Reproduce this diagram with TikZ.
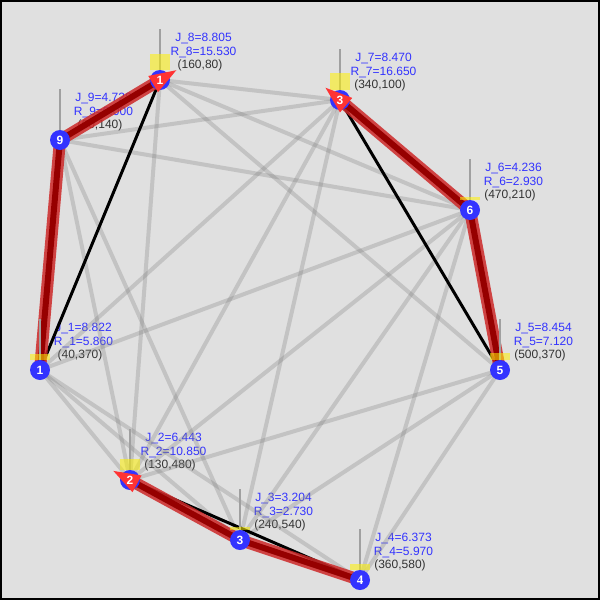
\documentclass[tikz,border=0pt]{standalone}
\usepackage{fontspec}
\setmainfont{Liberation Sans}
\newfontfamily\serifnum{Liberation Serif}
\usetikzlibrary{calc}
\definecolor{bg}{RGB}{224,224,224}
\definecolor{nodeblue}{RGB}{51,51,255}
\definecolor{lblblue}{RGB}{51,51,255}
\definecolor{txtgray}{RGB}{51,51,51}
\definecolor{redout}{RGB}{205,40,40}
\definecolor{redin}{RGB}{150,0,0}
\definecolor{arrowred}{RGB}{255,51,51}
\definecolor{vgray}{RGB}{160,160,160}
\newcommand\arrowat[2]{%
  \coordinate (tip) at ($(#1)!-19pt!(#2)$);
  \coordinate (bc) at ($(#1)!8pt!(#2)$);
  \fill[arrowred] (tip) -- ($(bc)!9.5pt!90:(#1)$) -- ($(bc)!9.5pt!-90:(#1)$) -- cycle;}
\tikzset{
  greyedge/.style={line width=4pt, draw=gray, draw opacity=0.3},
  blackedge/.style={line width=3pt, draw=black},
  redouter/.style={line width=12pt, draw=redout, draw opacity=0.85},
  redinner/.style={line width=6pt, draw=redin},
  vline/.style={line width=1.4pt, draw=vgray},
  ybar/.style={fill=yellow, fill opacity=0.55},
  vertex/.style={circle, fill=nodeblue, minimum size=20pt, inner sep=0pt},
  numtxt/.style={text=white, inner sep=0pt, font=\bfseries\fontsize{12}{12}\selectfont},
  jlbl/.style={anchor=base, text=lblblue, inner sep=0pt, font=\fontsize{12}{12}\selectfont},
  clbl/.style={anchor=base, text=txtgray, inner sep=0pt, font=\fontsize{12}{12}\selectfont}
}
\begin{document}
\begin{tikzpicture}[x=1pt,y=-1pt]
\useasboundingbox (0,0) rectangle (600,600);
\fill[bg] (0,0) rectangle (600,600);
\draw[line width=2pt] (1,1) rectangle (599,599);
% coordinates
\foreach \i/\x/\y in {1/40/370,2/130/480,3/240/540,4/360/580,5/500/370,6/470/210,7/340/100,8/160/80,9/60/140}
  {\coordinate (p\i) at (\x,\y);}
% labels
\foreach \i/\x/\y/\J/\R in {1/40/370/8.822/5.860,2/130/480/6.443/10.850,3/240/540/3.204/2.730,4/360/580/6.373/5.970,5/500/370/8.454/7.120,6/470/210/4.236/2.930,7/340/100/8.470/16.650,8/160/80/8.805/15.530,9/60/140/4.728/0.000}
  {\node[jlbl] (j\i) at (\x+43.5,\y-39) {J\_\i=\J};
   \node[jlbl] (r\i) at (\x+43.5,\y-24.5) {R\_\i=\R};
   \node[clbl] (c\i) at (\x+40,\y-11.5) {(\x,\y)};}
% grey edges
\foreach \a/\b in {1/2,1/3,1/4,1/6,1/7,2/5,2/6,2/7,2/8,2/9,3/5,3/6,3/7,3/9,4/5,4/6,5/8,6/8,6/9,7/8,7/9}
  {\draw[greyedge] (p\a) -- (p\b);}
% black edges
\foreach \a/\b in {1/8,7/5,2/4}
  {\draw[blackedge] (p\a) -- (p\b);}
% red edges
\foreach \a/\b in {9/8,9/1,6/7,6/5,3/2,3/4}
  {\draw[redouter] (p\a) -- (p\b);
   \draw[redinner] (p\a) -- (p\b);}
% vertical markers and bars
\foreach \i/\x/\y/\R in {1/40/370/5.860,2/130/480/10.850,3/240/540/2.730,4/360/580/5.970,5/500/370/7.120,6/470/210/2.930,7/340/100/16.650,8/160/80/15.530,9/60/140/0.000}
  {\draw[vline] (\x,\y-51) -- (p\i);
   \fill[ybar] (\x-10,\y-10-\R) rectangle (\x+10,\y-10);}
% vertices
\foreach \i in {1,...,9}
  {\node[vertex] (n\i) at (p\i) {};}
% arrowheads
\arrowat{p8}{p9}
\arrowat{p7}{p6}
\arrowat{p2}{p3}
% vertex numbers
\foreach \i/\s in {1/1,2/2,3/3,5/5,6/6,7/3,8/1,9/9}
  {\node[numtxt] (t\i) at (p\i) {\s};}
\node[numtxt, font=\serifnum\bfseries\fontsize{13}{13}\selectfont] (t4) at (p4) {4};
\end{tikzpicture}
\end{document}
